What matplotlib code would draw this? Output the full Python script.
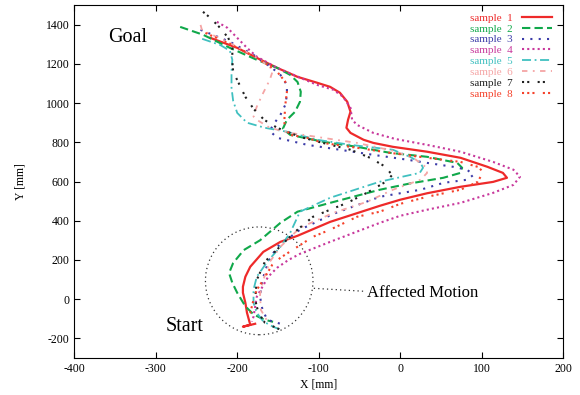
"""Hand trajectories of 8 samples, start (bottom-left) to goal (top-left)."""
import matplotlib

matplotlib.use("Agg")
import matplotlib.pyplot as plt  # noqa: E402
from matplotlib.patches import Ellipse  # noqa: E402

plt.rcParams["font.family"] = ["Liberation Serif", "DejaVu Serif"]
plt.rcParams["axes.unicode_minus"] = False  # plain hyphen like the original

# trajectories in mm (goal end first)
s1_x = [-233, -200, -176, -151, -126, -102, -86, -74, -65, -61, -64, -66, -61, -45, -33, -9,
        33, 74, 107, 126, 131, 114, 74, 33, 0, -25, -86, -126, -147, -168, -184, -190, -193,
        -193, -190, -188, -184, -193, -178]
s1_y = [1333, 1282, 1231, 1180, 1134, 1104, 1083, 1053, 1007, 956, 915, 874, 848, 813, 797, 777,
        752, 721, 675, 644, 619, 598, 573, 540, 507, 476, 394, 323, 292, 241, 165, 114, 63,
        32, -19, -70, -131, -141, -126]

s2_x = [-270, -242, -209, -176, -151, -135, -126, -122, -123, -129, -139, -144, -135, -95, -53,
        -12, 33, 70, 76, 74, 53, 12, -25, -86, -126, -147, -172, -192, -205, -210, -206, -200,
        -190, -180, -167, -156]
s2_y = [1389, 1349, 1282, 1221, 1180, 1144, 1108, 1058, 1007, 956, 915, 869, 838, 803, 777,
        746, 726, 695, 670, 644, 619, 590, 558, 491, 446, 389, 300, 250, 184, 133, 83, 32,
        -37, -78, -105, -116]

s3_x = [-245, -209, -180, -159, -147, -139, -139, -141, -147, -156, -160, -151, -114, -74, -33,
        9, 33, 65, 82, 90, 82, 53, 25, -25, -82, -123, -151, -162, -169, -172, -169, -163, -147]
s3_y = [1374, 1313, 1246, 1185, 1144, 1093, 1042, 991, 940, 889, 858, 823, 787, 762, 736,
        711, 695, 675, 660, 634, 609, 593, 558, 522, 435, 354, 267, 190, 98, 12, -55, -106, -126]

s4_x = [-225, -212, -200, -188, -176, -151, -102, -82, -70, -61, -59, -53, -33, -6, 33, 74,
        114, 139, 147, 139, 114, 74, 33, 0, -25, -86, -123, -137, -151, -162, -169, -176, -178,
        -180, -182]
s4_y = [1415, 1384, 1333, 1282, 1237, 1180, 1093, 1068, 1032, 976, 915, 889, 848, 817, 787, 752,
        700, 660, 624, 583, 542, 491, 456, 425, 389, 292, 231, 200, 160, 114, 63, 12, -39,
        -90, -115]

s5_x = [-243, -221, -209, -206, -207, -207, -205, -200, -188, -166, -139, -102, -61, -9, 12,
        25, 28, 24, -25, -86, -123, -135, -147, -163, -176, -180, -180, -176, -168, -156, -147]
s5_y = [1328, 1297, 1267, 1221, 1160, 1078, 1012, 950, 900, 874, 854, 813, 787, 762, 726,
        695, 670, 644, 599, 517, 446, 338, 267, 191, 114, 48, -19, -70, -114, -141, -156]

s6_x = [-245, -243, -233, -212, -193, -172, -156, -160, -168, -176, -180, -176, -160, -135, -95,
        -53, -9, 16, 31, 33, 25, -9, -41, -82, -123, -147, -160, -168, -172, -171, -164]
s6_y = [1399, 1369, 1353, 1313, 1272, 1221, 1170, 1119, 1053, 982, 931, 915, 874, 848, 823,
        797, 757, 721, 675, 644, 609, 558, 496, 440, 364, 267, 190, 98, 22, -55, -106]

s7_x = [-242, -233, -221, -211, -206, -206, -205, -199, -190, -180, -167, -151, -123, -95, -61,
        -37, -18, -10, -16, -41, -65, -86, -107, -126, -139, -166, -176, -178, -174, -166, -147]
s7_y = [1466, 1435, 1384, 1333, 1282, 1211, 1160, 1109, 1032, 971, 915, 874, 828, 797, 762,
        721, 675, 633, 603, 542, 491, 456, 420, 354, 303, 191, 98, -4, -70, -121, -156]

s8_x = [-239, -209, -178, -153, -141, -139, -141, -142, -142, -135, -114, -95, -53, -12, 33, 74,
        95, 102, 95, 74, 33, 0, -25, -53, -86, -107, -126, -147, -157, -168, -176, -180, -184,
        -188]
s8_y = [1358, 1302, 1236, 1170, 1109, 1058, 991, 925, 874, 838, 823, 797, 772, 746, 721, 700,
        675, 649, 598, 558, 522, 486, 446, 420, 354, 318, 267, 211, 175, 98, 47, -4, -70, -90]

SAMPLES = [
    (s1_x, s1_y, "#ee2a2a", "-", 1.6),
    (s2_x, s2_y, "#10a84a", (0, (4, 2)), 1.5),
    (s3_x, s3_y, "#3b3ba8", (0, (1, 3)), 1.5),
    (s4_x, s4_y, "#c8389c", (0, (1, 1.5)), 1.5),
    (s5_x, s5_y, "#40c0c0", (0, (5, 2, 1, 2)), 1.3),
    (s6_x, s6_y, "#f5a5a5", (0, (3, 3, 1, 3)), 1.3),
    (s7_x, s7_y, "#202020", (0, (1, 1.5, 1, 4)), 1.5),
    (s8_x, s8_y, "#f5412a", (0, (1, 1.5, 1, 1.5, 1, 4)), 1.5),
]

fig = plt.figure(figsize=(5.8, 3.95), dpi=100)
ax = fig.add_axes([0.128, 0.094, 0.843, 0.893])

for i, (x, y, c, ls, lw) in enumerate(SAMPLES, start=1):
    ax.plot(x, y, color=c, ls=ls, lw=lw, label=f"sample  {i}")

# "affected motion" region
ax.add_patch(Ellipse((-173, 93), 132, 550, fill=False, ls=(0, (1, 2.5)),
                     lw=0.9, color="#333333"))
ax.plot([-106, -45], [55, 40], ls=(0, (1, 2.5)), lw=0.9, color="#333333")
ax.text(-41, 32, "Affected Motion", fontsize=12, va="center", ha="left")
ax.text(-358, 1335, "Goal", fontsize=14.5, va="center", ha="left")
ax.text(-288, -141, "Start", fontsize=14.5, va="center", ha="left")

ax.set_xlim(-400, 200)
ax.set_ylim(-300, 1500)
ax.set_xticks(range(-400, 201, 100))
ax.set_yticks(range(-200, 1401, 200))
ax.tick_params(direction="in", top=True, right=True, length=4, labelsize=8.5)
ax.set_xlabel("X [mm]", fontsize=8.5, labelpad=3)
ax.set_ylabel("Y [mm]", fontsize=8.5, labelpad=14)

ax.legend(loc="upper right", bbox_to_anchor=(0.993, 1.0), frameon=False,
          markerfirst=False, labelcolor="linecolor", fontsize=8,
          handlelength=2.7, labelspacing=0.1, borderpad=0.2)

fig.savefig("out.png", dpi=100)
